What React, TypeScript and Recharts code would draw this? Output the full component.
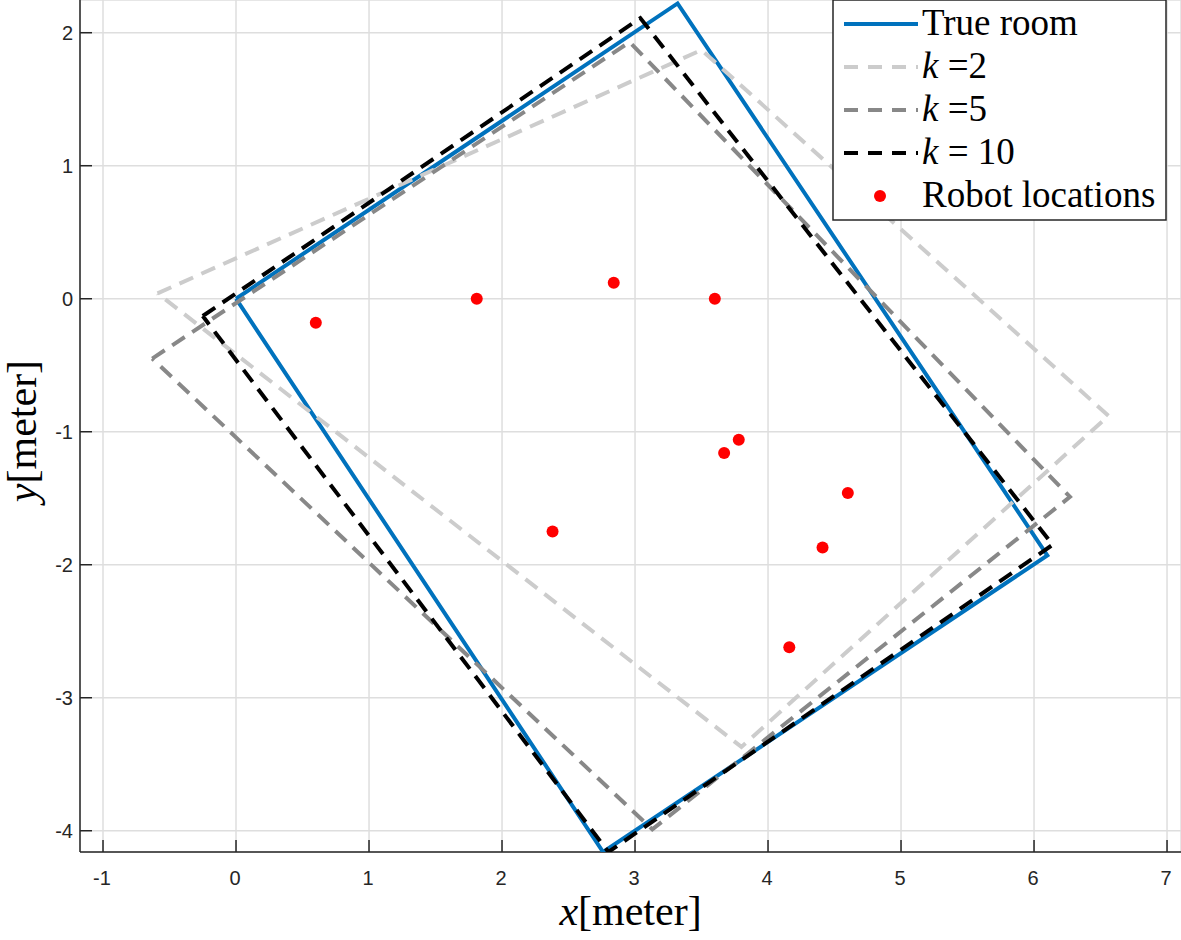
import React from "react";
import { ScatterChart, Scatter, XAxis, YAxis, CartesianGrid, Legend } from "recharts";

// axis ticks
const xTicks = [-1, 0, 1, 2, 3, 4, 5, 6, 7];
const yTicks = [-4, -3, -2, -1, 0, 1, 2];

// room outlines (closed polygons, first point repeated)
const trueRoom = [
  { x: 0, y: 0 },
  { x: 3.32, y: 2.22 },
  { x: 6.1, y: -1.93 },
  { x: 2.76, y: -4.16 },
  { x: 0, y: 0 },
];
const roomK2 = [
  { x: -0.59, y: 0.04 },
  { x: 3.5, y: 1.87 },
  { x: 6.56, y: -0.88 },
  { x: 3.8, y: -3.37 },
  { x: -0.59, y: 0.04 },
];
const roomK5 = [
  { x: -0.63, y: -0.45 },
  { x: 2.96, y: 1.93 },
  { x: 6.27, y: -1.49 },
  { x: 3.13, y: -3.99 },
  { x: -0.63, y: -0.45 },
];
const roomK10 = [
  { x: -0.25, y: -0.13 },
  { x: 3.04, y: 2.11 },
  { x: 6.14, y: -1.85 },
  { x: 2.8, y: -4.16 },
  { x: -0.25, y: -0.13 },
];

const robots = [
  { x: 0.6, y: -0.18 },
  { x: 1.81, y: 0.0 },
  { x: 2.84, y: 0.12 },
  { x: 3.6, y: 0.0 },
  { x: 3.78, y: -1.06 },
  { x: 3.67, y: -1.16 },
  { x: 4.6, y: -1.46 },
  { x: 2.38, y: -1.75 },
  { x: 4.41, y: -1.87 },
  { x: 4.16, y: -2.62 },
];

const W = 1181;
const H = 940;
const PLOT_LEFT = 80;
const PLOT_BOTTOM = 852;
const AXIS = "#262626";
const BLUE = "#0072BD";
const SERIF = "'Liberation Serif', 'Times New Roman', serif";
const SANS = "'Liberation Sans', Arial, Helvetica, sans-serif";
const DASH = "15 9";

const XTick = (props: any) => {
  const { x, payload } = props;
  return (
    <g>
      <line x1={x} x2={x} y1={PLOT_BOTTOM} y2={PLOT_BOTTOM - 12} stroke={AXIS} strokeWidth={1.5} />
      <text x={x - 1} y={PLOT_BOTTOM + 33} textAnchor="middle" fontFamily={SANS} fontSize={20} fill={AXIS}>
        {payload.value}
      </text>
    </g>
  );
};

const YTick = (props: any) => {
  const { y, payload } = props;
  return (
    <g>
      <line x1={PLOT_LEFT} x2={PLOT_LEFT + 12} y1={y} y2={y} stroke={AXIS} strokeWidth={1.5} />
      <text x={PLOT_LEFT - 7} y={y + 7} textAnchor="end" fontFamily={SANS} fontSize={20} fill={AXIS}>
        {payload.value}
      </text>
    </g>
  );
};

const XLabel = (props: any) => {
  const vb = props.viewBox;
  return (
    <text x={vb.x + vb.width / 2} y={925} textAnchor="middle" fontFamily={SERIF} fontSize={42} fill="#000">
      <tspan fontStyle="italic">x</tspan>
      <tspan>[meter]</tspan>
    </text>
  );
};

const YLabel = (props: any) => {
  const vb = props.viewBox;
  const cy = vb.y + vb.height / 2 + 5;
  return (
    <text
      x={36}
      y={cy}
      transform={`rotate(-90 36 ${cy})`}
      textAnchor="middle"
      fontFamily={SERIF}
      fontSize={42}
      fill="#000"
    >
      <tspan fontStyle="italic">y</tspan>
      <tspan>[meter]</tspan>
    </text>
  );
};

const legendItems = [
  { key: "true", color: BLUE, dash: undefined, label: <tspan>True room</tspan> },
  {
    key: "k2",
    color: "#cccccc",
    dash: "14 10",
    label: (
      <>
        <tspan fontStyle="italic">k</tspan>
        <tspan> =2</tspan>
      </>
    ),
  },
  {
    key: "k5",
    color: "#888888",
    dash: "14 10",
    label: (
      <>
        <tspan fontStyle="italic">k</tspan>
        <tspan> =5</tspan>
      </>
    ),
  },
  {
    key: "k10",
    color: "#000000",
    dash: "14 10",
    label: (
      <>
        <tspan fontStyle="italic">k</tspan>
        <tspan> = 10</tspan>
      </>
    ),
  },
];

const RoomLegend = () => (
  <svg width={336} height={223} style={{ display: "block" }}>
    <rect x={1} y={1} width={333} height={220} fill="#fff" stroke={AXIS} strokeWidth={1.5} />
    {legendItems.map((it, i) => {
      const cy = 25 + i * 43;
      return (
        <g key={it.key}>
          <line x1={12} x2={86} y1={cy} y2={cy} stroke={it.color} strokeWidth={4} strokeDasharray={it.dash} />
          <text x={90} y={cy + 11} fontFamily={SERIF} fontSize={37} fill="#000">
            {it.label}
          </text>
        </g>
      );
    })}
    <circle cx={48} cy={197} r={6} fill="#ff0000" />
    <text x={90} y={197 + 11} fontFamily={SERIF} fontSize={37} fill="#000">
      Robot locations
    </text>
  </svg>
);

const noShape = () => <g />;
const robotDot = (p: any) => <circle cx={p.cx} cy={p.cy} r={6} fill="#ff0000" />;

export default function App() {
  return (
    <div style={{ position: "absolute", left: 0, top: 0, width: W, height: H, background: "#fff" }}>
      <ScatterChart width={W} height={H} margin={{ top: 0, right: 0, bottom: 0, left: 0 }}>
        <CartesianGrid stroke="#dedede" strokeWidth={1.5} />
        <XAxis
          type="number"
          dataKey="x"
          domain={[-1.173, 7.105]}
          ticks={xTicks}
          allowDataOverflow
          height={H - PLOT_BOTTOM}
          axisLine={{ stroke: AXIS, strokeWidth: 1.5 }}
          tickLine={false}
          tick={<XTick />}
          label={{ content: <XLabel /> }}
        />
        <YAxis
          type="number"
          dataKey="y"
          domain={[-4.16, 2.246]}
          ticks={yTicks}
          allowDataOverflow
          width={PLOT_LEFT}
          axisLine={{ stroke: AXIS, strokeWidth: 1.5 }}
          tickLine={false}
          tick={<YTick />}
          label={{ content: <YLabel /> }}
        />
        <Scatter data={trueRoom} line={{ stroke: BLUE, strokeWidth: 4 }} shape={noShape} isAnimationActive={false} />
        <Scatter
          data={roomK2}
          line={{ stroke: "#cccccc", strokeWidth: 4, strokeDasharray: DASH }}
          shape={noShape}
          isAnimationActive={false}
        />
        <Scatter
          data={roomK5}
          line={{ stroke: "#888888", strokeWidth: 4, strokeDasharray: DASH }}
          shape={noShape}
          isAnimationActive={false}
        />
        <Scatter
          data={roomK10}
          line={{ stroke: "#000000", strokeWidth: 4, strokeDasharray: DASH }}
          shape={noShape}
          isAnimationActive={false}
        />
        <Scatter data={robots} shape={robotDot} isAnimationActive={false} />
        <Legend
          layout="vertical"
          align="center"
          verticalAlign="middle"
          content={<RoomLegend />}
          wrapperStyle={{ position: "absolute", left: 832, top: -1, width: 336, height: 223 }}
        />
      </ScatterChart>
    </div>
  );
}
